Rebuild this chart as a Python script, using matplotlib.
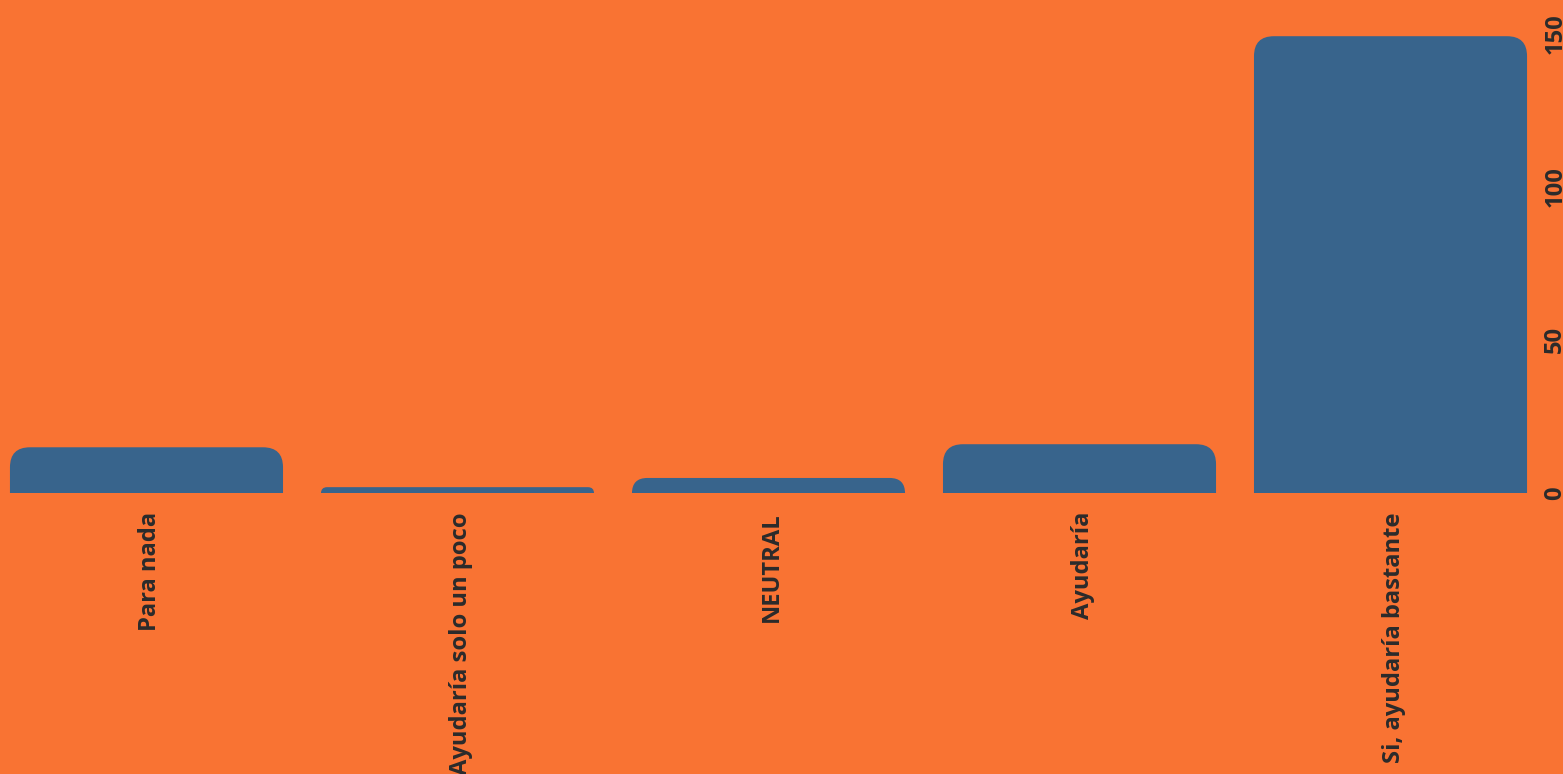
import matplotlib.pyplot as plt
from matplotlib.path import Path
from matplotlib.patches import PathPatch
from matplotlib.transforms import ScaledTranslation

categories = ["Para nada", "Ayudaría solo un poco", "NEUTRAL", "Ayudaría", "Si, ayudaría bastante"]
counts = [15, 2, 5, 16, 149]
y_ticks = [0, 50, 100, 150]

bg_color = "#F97333"
bar_color = "#38648C"
text_color = "#2B2B2B"

plt.rcParams["font.family"] = ["Open Sans", "DejaVu Sans"]

fig = plt.figure(figsize=(15.63, 7.74), dpi=100, facecolor=bg_color)
ax = fig.add_axes([0, 280.7 / 774, 1537 / 1563, 493.3 / 774])
ax.set_facecolor(bg_color)

x = range(len(categories))
bars = ax.bar(x, counts, width=0.878, color=bar_color)
ax.set_xlim(-0.471, len(categories) - 1 + 0.471)
ax.set_ylim(0, 160.8)

# swap plain rectangles for ones with rounded top corners
fig.canvas.draw()
px_x = ax.transData.transform((1, 0))[0] - ax.transData.transform((0, 0))[0]
px_y = ax.transData.transform((0, 1))[1] - ax.transData.transform((0, 0))[1]
for rect in bars:
    x0, w, h = rect.get_x(), rect.get_width(), rect.get_height()
    r_px = min(20, h * px_y)
    rx, ry = r_px / px_x, r_px / px_y
    verts = [(x0, 0), (x0, h - ry), (x0, h), (x0 + rx, h),
             (x0 + w - rx, h), (x0 + w, h), (x0 + w, h - ry), (x0 + w, 0), (x0, 0)]
    codes = [Path.MOVETO, Path.LINETO, Path.CURVE3, Path.CURVE3,
             Path.LINETO, Path.CURVE3, Path.CURVE3, Path.LINETO, Path.CLOSEPOLY]
    ax.add_patch(PathPatch(Path(verts, codes), facecolor=bar_color, edgecolor="none"))
    rect.set_visible(False)

ax.set_xticks(list(x))
ax.set_xticklabels(categories, rotation=90, fontsize=17.1, fontweight="bold", color=text_color)
ax.yaxis.tick_right()
ax.set_yticks(y_ticks)
ax.set_yticklabels([str(t) for t in y_ticks], rotation=90, va="center",
                   fontsize=17.1, fontweight="bold", color=text_color)
ax.tick_params(axis="x", length=0, pad=13.5)
ax.tick_params(axis="y", length=0, pad=4.5)

shift = ScaledTranslation(3.5 / 100, 0, fig.dpi_scale_trans)
for label in ax.get_xticklabels():
    label.set_transform(label.get_transform() + shift)

for spine in ax.spines.values():
    spine.set_visible(False)

plt.savefig("out.png", dpi=100, facecolor=bg_color)
plt.close()
